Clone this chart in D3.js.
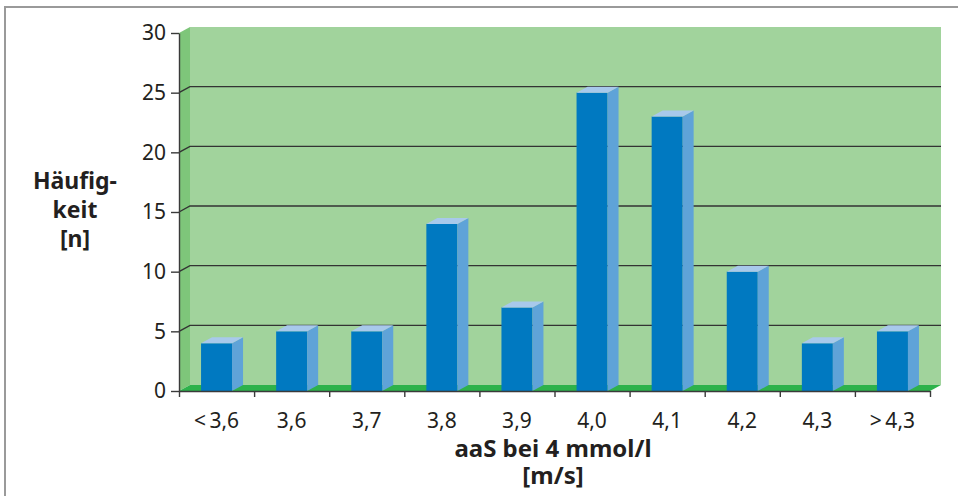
<!DOCTYPE HTML>
<html>
  <head>
    <meta charset="utf-8">
    <style>
     * { margin:0;padding:0 }
     body, html {
        width: 958px;
        height: 496px;
        overflow: hidden;
        background-color: #fff;
     }
     svg text { font-family: "Noto Sans", sans-serif; fill: #231f20; }
     .axis path, .axis line { stroke: #3a3a3a; stroke-width: 1.4; }
     .grid { stroke: #333; stroke-width: 1.4; fill: none; }
    </style>
    <script src="https://cdn.jsdelivr.net/npm/d3@7"></script>
  </head>
  <body>
    <script>
      // data
      var categories = ["<\u20093,6", "3,6", "3,7", "3,8", "3,9", "4,0", "4,1", "4,2", "4,3", ">\u20094,3"];
      var counts = [4, 5, 5, 14, 7, 25, 23, 10, 4, 5];
      var yTicks = [0, 5, 10, 15, 20, 25, 30];
      var yTitle = ["Häufig-", "keit", "[n]"];
      var xTitle = ["aaS bei 4 mmol/l", "[m/s]"];

      var width = 958, height = 496;
      var plotLeft = 179, plotRight = 930, plotTop = 33, plotBottom = 391;
      var dx = 11, dy = -6;  // 3d depth

      var svg = d3.select("body").append("svg")
          .attr("width", width)
          .attr("height", height);

      // frame
      svg.append("path")
          .attr("d", "M5,496V7H958")
          .attr("fill", "none")
          .attr("stroke", "#9a9a9a")
          .attr("stroke-width", 2);

      var x = d3.scaleBand()
          .domain(categories)
          .range([plotLeft, plotRight]);

      var xEdge = d3.scaleLinear()
          .domain([0, categories.length])
          .range([plotLeft, plotRight]);

      var y = d3.scaleLinear()
          .domain([0, 30])
          .range([plotBottom, plotTop]);

      // walls
      svg.append("rect")
          .attr("x", plotLeft + dx).attr("y", y(30) + dy)
          .attr("width", plotRight - plotLeft).attr("height", y(0) - y(30))
          .attr("fill", "#a1d39c");

      svg.append("path")
          .attr("d", "M" + plotLeft + "," + y(0) + "L" + (plotLeft + dx) + "," + (y(0) + dy) +
                "L" + (plotLeft + dx) + "," + (y(30) + dy) + "L" + plotLeft + "," + y(30) + "Z")
          .attr("fill", "#7ec67a");

      svg.append("path")
          .attr("d", "M" + plotLeft + "," + y(0) + "L" + plotRight + "," + y(0) +
                "L" + (plotRight + dx) + "," + (y(0) + dy) + "L" + (plotLeft + dx) + "," + (y(0) + dy) + "Z")
          .attr("fill", "#2db24b");

      // grid lines on the back and side wall
      svg.selectAll(".grid")
          .data(yTicks.filter(function(d) { return d > 0 && d < 30; }))
          .enter().append("path")
          .attr("class", "grid")
          .attr("d", function(d) {
            return "M" + plotLeft + "," + y(d) + "L" + (plotLeft + dx) + "," + (y(d) + dy) + "H" + (plotRight + dx);
          });

      // bars
      var bw = 31;
      var bars = svg.selectAll(".bar")
          .data(counts)
          .enter().append("g")
          .attr("class", "bar");

      function x0(d, i) { return x(categories[i]) + (x.bandwidth() - bw) / 2; }

      bars.append("rect")
          .attr("x", x0)
          .attr("y", function(d) { return y(d); })
          .attr("width", bw)
          .attr("height", function(d) { return y(0) - y(d); })
          .attr("fill", "#0079c1");

      bars.append("path")
          .attr("d", function(d, i) {
            var a = x0(d, i) + bw;
            return "M" + a + "," + y(d) + "l" + dx + "," + dy + "V" + (y(0) + dy) + "L" + a + "," + y(0) + "Z";
          })
          .attr("fill", "#5fa3d8");

      bars.append("path")
          .attr("d", function(d, i) {
            var a = x0(d, i);
            return "M" + a + "," + y(d) + "l" + dx + "," + dy + "h" + bw + "l" + (-dx) + "," + (-dy) + "Z";
          })
          .attr("fill", "#a8c9eb");

      // axes
      var yAxis = svg.append("g")
          .attr("class", "axis")
          .attr("transform", "translate(" + plotLeft + ",0)")
          .call(d3.axisLeft(y).tickValues(yTicks).tickSize(8).tickPadding(5).tickSizeOuter(0));
      yAxis.selectAll("text").style("font-size", "21px");

      svg.append("g")
          .attr("class", "axis")
          .attr("transform", "translate(0," + plotBottom + ")")
          .call(d3.axisBottom(xEdge).tickValues(d3.range(categories.length + 1)).tickSize(6).tickFormat("").tickSizeOuter(0));

      var xAxis = svg.append("g")
          .attr("class", "axis")
          .attr("transform", "translate(0," + plotBottom + ")")
          .call(d3.axisBottom(x).tickSize(0).tickPadding(37));
      xAxis.select(".domain").remove();
      xAxis.selectAll("text").style("font-size", "21px").attr("dy", "0");

      // axis titles
      svg.append("text")
          .attr("x", 75).attr("y", 189)
          .attr("text-anchor", "middle")
          .style("font-size", "23px").style("font-weight", "bold")
          .selectAll("tspan")
          .data(yTitle)
          .enter().append("tspan")
          .attr("x", 75)
          .attr("dy", function(d, i) { return i ? 29 : 0; })
          .text(function(d) { return d; });

      svg.append("text")
          .attr("x", 553).attr("y", 457)
          .attr("text-anchor", "middle")
          .style("font-size", "24px").style("font-weight", "bold")
          .selectAll("tspan")
          .data(xTitle)
          .enter().append("tspan")
          .attr("x", 553)
          .attr("dy", function(d, i) { return i ? 27 : 0; })
          .text(function(d) { return d; });
    </script>
  </body>
</html>
